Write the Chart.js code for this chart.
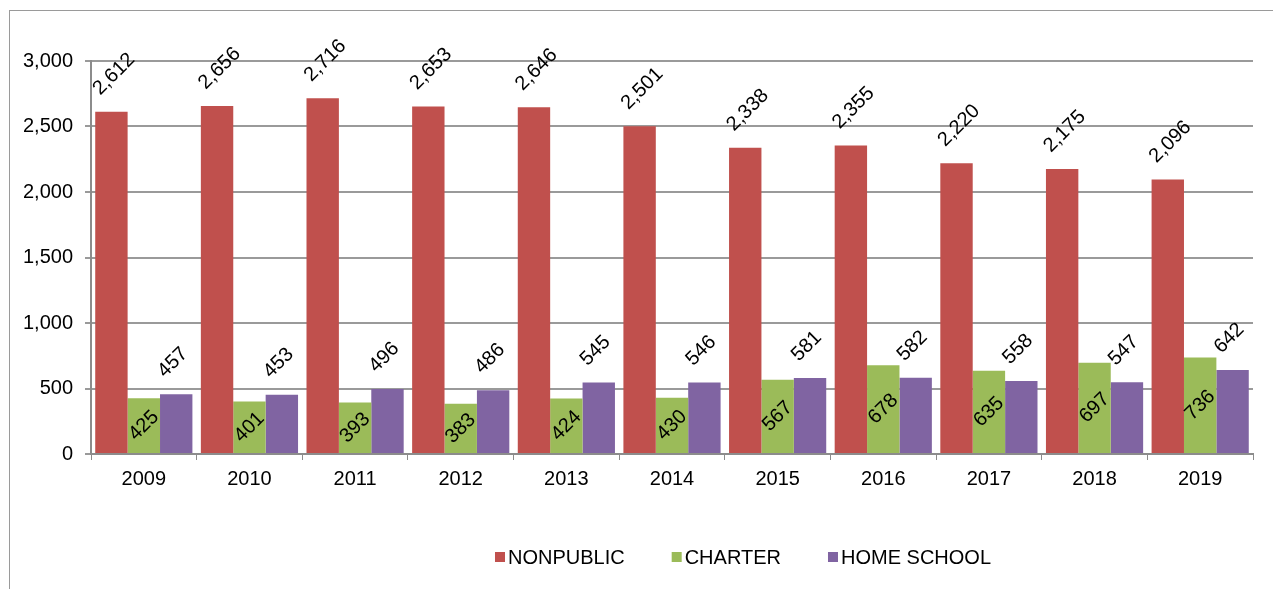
<!DOCTYPE html>
<html>
<head>
<meta charset="utf-8">
<script src="https://cdn.jsdelivr.net/npm/chart.js@4"></script>
<style>
  html, body { margin: 0; padding: 0; background: #fff; overflow: hidden; }
  #frame {
    position: absolute; left: 9px; top: 10px; width: 1400px; height: 700px;
    border: 1px solid #9a9a9a; box-sizing: border-box;
  }
  #wrap { position: absolute; left: 0; top: 0; width: 1273px; height: 589px; }
</style>
</head>
<body>
<div id="frame"></div>
<div id="wrap"><canvas id="chart"></canvas></div>
<script>
// ---- data ----
const years = ["2009", "2010", "2011", "2012", "2013", "2014", "2015", "2016", "2017", "2018", "2019"];
const nonpublic = [2612, 2656, 2716, 2653, 2646, 2501, 2338, 2355, 2220, 2175, 2096];
const charter = [425, 401, 393, 383, 424, 430, 567, 678, 635, 697, 736];
const homeSchool = [457, 453, 496, 486, 545, 546, 581, 582, 558, 547, 642];
const yTicks = [0, 500, 1000, 1500, 2000, 2500, 3000];

const FONT = "'Liberation Sans', Arial, sans-serif";
const FONT_SIZE = 20;
const fmt = (v) => v.toLocaleString("en-US");

// rotated value labels: charter centred inside bar, others above the bar
const valueLabels = {
  id: "valueLabels",
  afterDatasetsDraw(chart) {
    const ctx = chart.ctx;
    ctx.save();
    ctx.font = FONT_SIZE + "px " + FONT;
    ctx.fillStyle = "#000";
    chart.data.datasets.forEach((ds, i) => {
      const meta = chart.getDatasetMeta(i);
      meta.data.forEach((bar, j) => {
        const { x, y, base, width } = bar.getProps(["x", "y", "base", "width"], true);
        const text = fmt(ds.data[j]);
        ctx.save();
        if (ds.label === "CHARTER") {
          ctx.translate(x, (y + base) / 2);
          ctx.rotate(-Math.PI / 4);
          ctx.textAlign = "center";
          ctx.textBaseline = "middle";
          ctx.fillText(text, 0, 0);
        } else {
          ctx.translate(x - width / 2 + 5, y - 16);
          ctx.rotate(-Math.PI / 4);
          ctx.textAlign = "left";
          ctx.textBaseline = "alphabetic";
          ctx.fillText(text, 0, 0);
        }
        ctx.restore();
      });
    });
    ctx.restore();
  },
};

// legend drawn by hand so gaps and offset match the original sheet
const bottomLegend = {
  id: "bottomLegend",
  afterDraw(chart) {
    const ctx = chart.ctx;
    const box = 10, textGap = 3, itemGap = 47, centerX = 743, cy = 557;
    ctx.save();
    ctx.font = FONT_SIZE + "px " + FONT;
    ctx.textBaseline = "middle";
    ctx.textAlign = "left";
    const items = chart.data.datasets.map((ds) => ({
      label: ds.label, color: ds.backgroundColor, w: ctx.measureText(ds.label).width,
    }));
    const total = items.reduce((s, it) => s + box + textGap + it.w, 0) + itemGap * (items.length - 1);
    let x = centerX - total / 2;
    items.forEach((it) => {
      ctx.fillStyle = it.color;
      ctx.fillRect(x, cy - box / 2, box, box);
      ctx.fillStyle = "#000";
      ctx.fillText(it.label, x + box + textGap, cy + 1);
      x += box + textGap + it.w + itemGap;
    });
    ctx.restore();
  },
};

new Chart(document.getElementById("chart"), {
  type: "bar",
  data: {
    labels: years,
    datasets: [
      { label: "NONPUBLIC", data: nonpublic, backgroundColor: "#C0504D" },
      { label: "CHARTER", data: charter, backgroundColor: "#9BBB59" },
      { label: "HOME SCHOOL", data: homeSchool, backgroundColor: "#8064A2" },
    ],
  },
  options: {
    responsive: true,
    maintainAspectRatio: false,
    animation: false,
    datasets: { bar: { categoryPercentage: 0.92, barPercentage: 1.0, borderWidth: 0 } },
    layout: { padding: { top: 61, right: 20, left: 0, bottom: 87 } },
    plugins: {
      legend: { display: false },
      tooltip: { enabled: false },
    },
    scales: {
      x: {
        grid: { display: true, drawOnChartArea: false, offset: true, tickLength: 6, color: "#8c8c8c" },
        border: { color: "#8c8c8c", width: 2 },
        ticks: { color: "#000", font: { family: FONT, size: FONT_SIZE }, padding: 7, maxRotation: 0 },
        afterFit(scale) { scale.height = 48; },
      },
      y: {
        min: 0,
        max: 3000,
        afterBuildTicks(scale) { scale.ticks = yTicks.map((v) => ({ value: v })); },
        grid: { color: "#9a9a9a", lineWidth: 2, tickLength: 6 },
        border: { color: "#8c8c8c", width: 2 },
        ticks: {
          color: "#000",
          font: { family: FONT, size: FONT_SIZE },
          padding: 12,
          callback: (v) => fmt(v),
        },
        afterFit(scale) { scale.width = 91; },
      },
    },
  },
  plugins: [valueLabels, bottomLegend],
});
</script>
</body>
</html>
